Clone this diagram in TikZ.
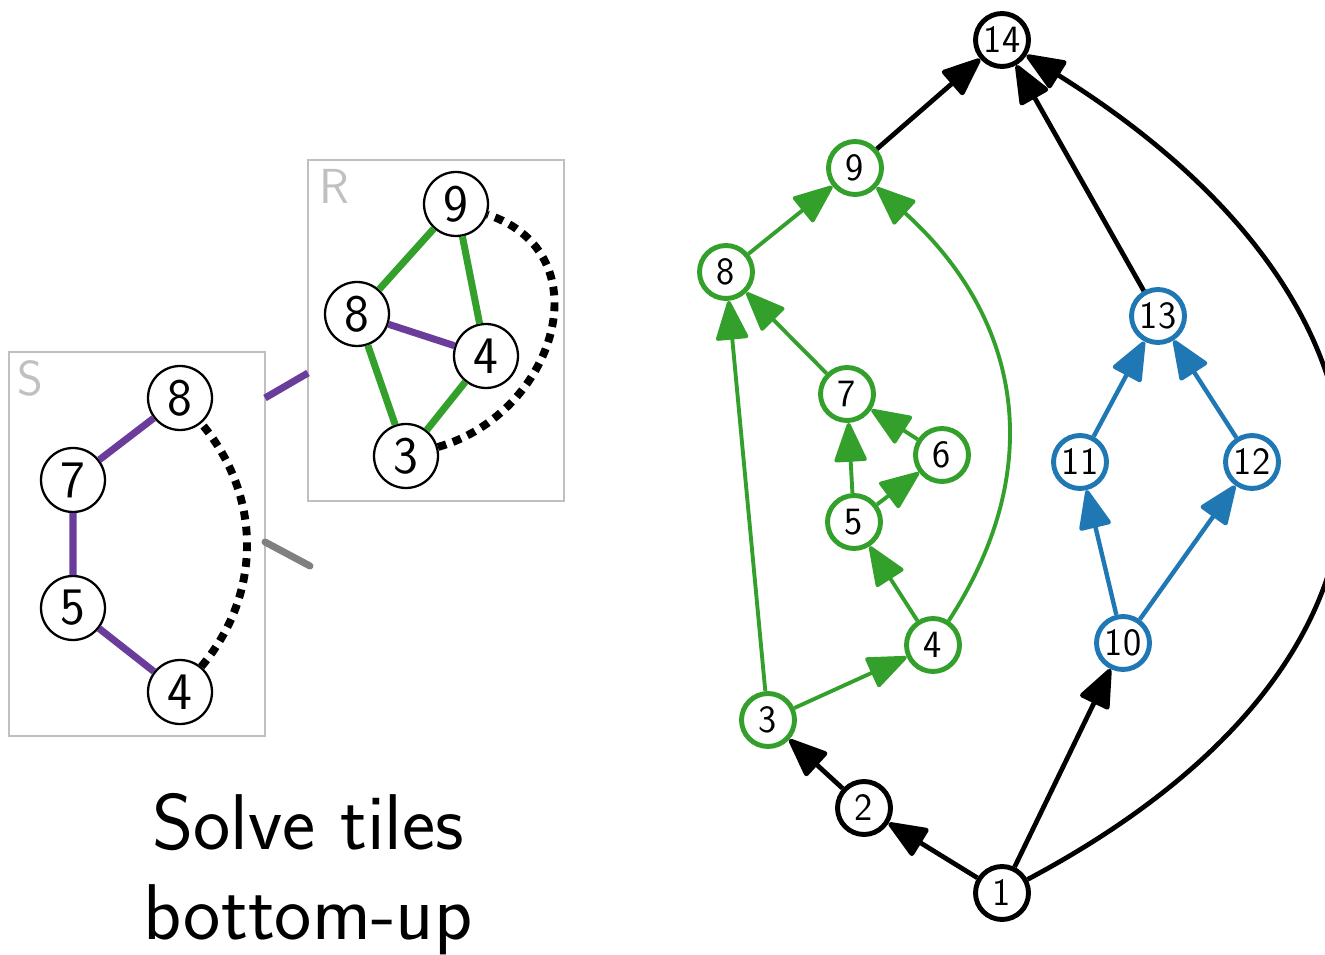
\documentclass[tikz,border=0pt]{standalone}
\usepackage{fontspec}
\usetikzlibrary{arrows.meta}
\definecolor{tilegreen}{HTML}{33A02C}
\definecolor{tileblue}{HTML}{1F78B4}
\definecolor{tilepurple}{HTML}{6A3D9A}
\definecolor{tilegray}{HTML}{C0C0C0}
\definecolor{linkgray}{HTML}{808080}
\begin{document}
\begin{tikzpicture}
      [x=0.02cm, y=0.02cm,
      tile/.style={draw=tilegray, line width=1pt},
      tilename/.style={text=tilegray, font=\sffamily\fontsize{28}{28}\selectfont},
      cell/.style={circle, draw, fill=white, line width=1.3pt, minimum size=1.28cm, inner sep=0pt, font=\sffamily\fontsize{30}{30}\selectfont},
      job/.style={circle, draw, fill=white, line width=2.8pt, minimum size=1.06cm, inner sep=0pt, font=\sffamily\fontsize{22}{22}\selectfont},
      seam/.style={line width=4pt},
      cut/.style={line width=4.5pt, dash pattern=on 5pt off 4pt},
      dep/.style={-{Triangle[length=24pt,width=19pt,round]}, line width=2.7pt},
      ]
      \useasboundingbox (0,0) rectangle (1325,954);

      % tiles S and R
      \draw[tile] (9,218) rectangle (265,602);
      \draw[tile] (308,453) rectangle (564,794);
      \node[tilename] (sname) at (30,576) {S};
      \node[tilename] (rname) at (334,768) {R};
      \draw[tilepurple, seam] (265,556) -- (308,581);
      \draw[linkgray, line width=4pt, line cap=round] (265,412) -- (310,388);

      \node[cell] (s8) at (180,556) {8};
      \node[cell] (s7) at (73,474) {7};
      \node[cell] (s5) at (73,346) {5};
      \node[cell] (s4) at (180,262) {4};
      \draw[tilepurple, seam] (s8) -- (s7) -- (s5) -- (s4);
      \draw[cut] (s4) to[out=50, in=-50, looseness=1.0] (s8);

      \node[cell] (r9) at (456,750) {9};
      \node[cell] (r8) at (357,640) {8};
      \node[cell] (r4) at (486,598) {4};
      \node[cell] (r3) at (406,498) {3};
      \draw[tilegreen, seam] (r9) -- (r8) -- (r3) -- (r4) -- (r9);
      \draw[tilepurple, seam] (r8) -- (r4);
      \draw[cut] (r3) .. controls (555,540) and (605,700) .. (r9);

      \node[align=center, font=\sffamily\fontsize{45}{51}\selectfont, anchor=base] (caption) at (308,15) {Solve tiles\\bottom-up};

      % task graph
      \node[job] (n1) at (1002,61) {1};
      \node[job] (n2) at (864,146) {2};
      \node[job, draw=tilegreen] (n3) at (768,234) {3};
      \node[job, draw=tilegreen] (n4) at (933,309) {4};
      \node[job, draw=tilegreen] (n5) at (854,432) {5};
      \node[job, draw=tilegreen] (n6) at (942,499) {6};
      \node[job, draw=tilegreen] (n7) at (847,560) {7};
      \node[job, draw=tilegreen] (n8) at (726,682) {8};
      \node[job, draw=tilegreen] (n9) at (855,786) {9};
      \node[job, draw=tileblue] (n10) at (1123,311) {10};
      \node[job, draw=tileblue] (n11) at (1080,492) {11};
      \node[job, draw=tileblue] (n12) at (1252,492) {12};
      \node[job, draw=tileblue] (n13) at (1158,638) {13};
      \node[job] (n14) at (1002,914) {14};

      \draw[dep] (n1) -- (n2);
      \draw[dep] (n2) -- (n3);
      \draw[dep] (n1) -- (n10);
      \draw[dep] (n9) -- (n14);
      \draw[dep] (n13) -- (n14);
      \draw[dep] (n1) to[out=28, in=-32, looseness=1.5] (n14);

      \begin{scope}[tilegreen, every path/.style={dep, line width=2.2pt}]
        \draw (n3) -- (n4);
        \draw (n3) -- (n8);
        \draw (n4) -- (n5);
        \draw (n5) -- (n6);
        \draw (n5) -- (n7);
        \draw (n6) -- (n7);
        \draw (n7) -- (n8);
        \draw (n8) -- (n9);
        \draw (n4) to[out=57, in=-42, looseness=1.1] (n9);
      \end{scope}

      \begin{scope}[tileblue, every path/.style={dep, line width=2.5pt}]
        \draw (n10) -- (n11);
        \draw (n10) -- (n12);
        \draw (n11) -- (n13);
        \draw (n12) -- (n13);
      \end{scope}
\end{tikzpicture}
\end{document}
